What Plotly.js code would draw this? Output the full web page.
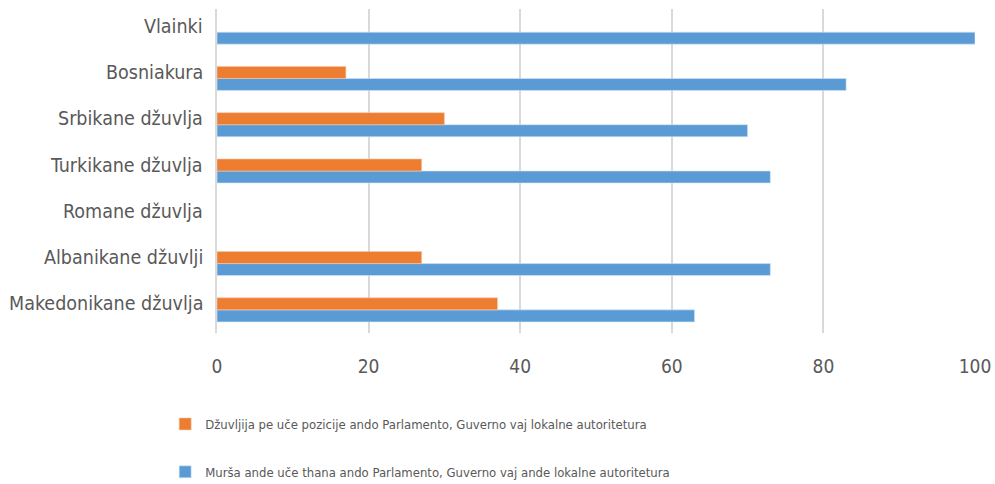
<!DOCTYPE html>
<html><head><meta charset="utf-8">
<script src="https://cdn.plot.ly/plotly-3.0.1.min.js"></script>
<style>html,body{margin:0;padding:0;background:#fff}#chart{width:995px;height:484px}</style>
</head><body><div id="chart"></div>
<script>
const categories = ["Makedonikane džuvlja","Albanikane džuvlji","Romane džuvlja","Turkikane džuvlja","Srbikane džuvlja","Bosniakura","Vlainki"];
const positionsValues = [37, 27, null, 27, 30, 17, null];
const supportValues = [63, 73, null, 73, 70, 83, 100];
const seriesNames = ["Džuvljija pe uče pozicije ando Parlamento, Guverno vaj lokalne autoritetura","Murša ande uče thana ando Parlamento, Guverno vaj ande lokalne autoritetura"];
const xTicks = [0,20,40,60,80,100];

const font = "'DejaVu Sans Condensed', sans-serif";
const traces = [
  {type:'bar', orientation:'h', y:categories, x:supportValues, name:seriesNames[1],
   marker:{color:'#5b9bd5', line:{color:'#d6e5f3', width:0.6}}, legendgroup:'b', legendrank:2, hoverinfo:'x'},
  {type:'bar', orientation:'h', y:categories, x:positionsValues, name:seriesNames[0],
   marker:{color:'#ed7d31', line:{color:'#f6c7a6', width:0.6}}, legendgroup:'a', legendrank:1, hoverinfo:'x'}
];
const labelAnnotations = categories.map(c => ({
  text:c, xref:'paper', yref:'y', x:0, y:c, xanchor:'right', yanchor:'middle',
  xshift:-12, yshift:6, showarrow:false, font:{size:19.5, color:'#595959'}
}));
const layout = {
  width:995, height:484,
  margin:{l:217, r:20, t:9, b:151, autoexpand:false},
  paper_bgcolor:'#fff', plot_bgcolor:'#fff',
  barmode:'group', bargap:0.48, bargroupgap:0,
  font:{family:font, color:'#595959'},
  xaxis:{range:[0,100], tickvals:xTicks, ticktext:xTicks.map(String), showgrid:true, gridcolor:'#d9d9d9', gridwidth:2,
         zeroline:false, showline:false, tickfont:{size:19, color:'#595959'}, tickangle:0, ticklabelstandoff:20, automargin:false, fixedrange:true},
  yaxis:{type:'category', categoryorder:'array', categoryarray:categories, showgrid:false, zeroline:false,
         showticklabels:false, showline:true, linecolor:'#d9d9d9', linewidth:2, automargin:false, fixedrange:true},
  annotations:labelAnnotations,
  showlegend:true,
  legend:{orientation:'v', xref:'container', yref:'container', x:0.166, y:0.155, xanchor:'left', yanchor:'top',
          traceorder:'grouped', tracegroupgap:28, font:{size:13, color:'#595959'}, itemwidth:30},
};
Plotly.newPlot('chart', traces, layout, {displayModeBar:false, staticPlot:true});
</script></body></html>
